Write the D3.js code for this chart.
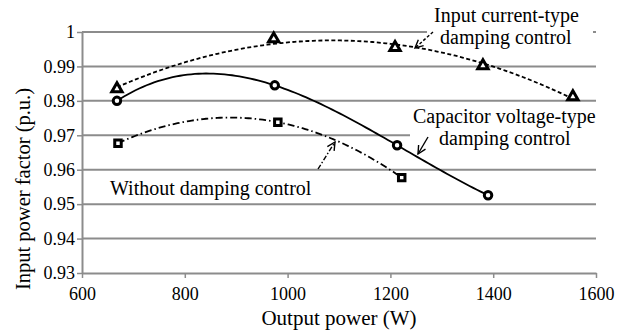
<!DOCTYPE html>
<html>
<head>
<meta charset="utf-8">
<script src="https://cdn.jsdelivr.net/npm/d3@7"></script>
</head>
<body style="margin:0; background:#fff">
<div id="chart"></div>
<script>
// values
const xTicks = [600, 800, 1000, 1200, 1400, 1600];
const yTicks = [0.93, 0.94, 0.95, 0.96, 0.97, 0.98, 0.99, 1];

const powerInput = [668, 973, 1209, 1380, 1555];
const pfInput    = [0.9835, 0.998, 0.9955, 0.9902, 0.9812];

const powerCap = [668, 975, 1213, 1390];
const pfCap    = [0.980, 0.9845, 0.9671, 0.9526];

const powerNone = [670, 981, 1222];
const pfNone    = [0.9677, 0.9738, 0.9577];

const serif = '"Liberation Serif"';

const margin = {top: 32, right: 24, bottom: 63, left: 82},
      width = 620 - margin.left - margin.right,
      height = 336 - margin.top - margin.bottom;

const svgRoot = d3.select("#chart").append("svg")
  .attr("width", 620).attr("height", 336);

const defs = svgRoot.append("defs");
defs.append("marker")
  .attr("id", "vhead")
  .attr("viewBox", "0 0 10 10")
  .attr("refX", 9).attr("refY", 5)
  .attr("markerWidth", 10).attr("markerHeight", 10)
  .attr("markerUnits", "userSpaceOnUse")
  .attr("orient", "auto")
  .append("path")
  .attr("d", "M1,1 L9,5 L1,9")
  .attr("fill", "none").attr("stroke", "#000").attr("stroke-width", 1.4);

const svg = svgRoot.append("g")
  .attr("transform", `translate(${margin.left},${margin.top})`);

const x = d3.scaleLinear().domain([600, 1600]).range([0, width]);
const y = d3.scaleLinear().domain([0.93, 1]).range([height, 0]);

// gridlines
svg.append("g")
  .selectAll("line")
  .data(yTicks.filter(d => d > 0.93))
  .enter().append("line")
  .attr("x1", 0).attr("x2", width)
  .attr("y1", d => y(d)).attr("y2", d => y(d))
  .attr("stroke", "#8c8c8c").attr("stroke-width", 2);

// white label boxes sit over the gridlines, under the curves
const boxes = svgRoot.append("g");
[[427, 8, 166, 40], [410, 106, 190, 44]].forEach(b => {
  boxes.append("rect")
    .attr("x", b[0]).attr("y", b[1]).attr("width", b[2]).attr("height", b[3])
    .attr("fill", "#fff");
});

// axes
const yAxis = svg.append("g")
  .call(d3.axisLeft(y).tickValues(yTicks).tickFormat(d => d === 1 ? "1" : d3.format(".2f")(d))
        .tickSize(5).tickSizeOuter(0).tickPadding(2));
const xAxis = svg.append("g")
  .attr("transform", `translate(0,${height})`)
  .call(d3.axisBottom(x).tickValues(xTicks).tickFormat(d3.format("d"))
        .tickSize(5).tickSizeOuter(0).tickPadding(9));
[xAxis, yAxis].forEach(a => {
  a.select(".domain").attr("stroke", "#8c8c8c").attr("stroke-width", 2);
  a.selectAll(".tick line").attr("stroke", "#8c8c8c").attr("stroke-width", 1.5);
  a.selectAll("text")
    .style("font-family", serif).style("font-size", "18px")
    .attr("fill", "#000");
});

// axis titles
svg.append("text")
  .attr("x", width / 2).attr("y", height + 52)
  .attr("text-anchor", "middle")
  .style("font-family", serif).style("font-size", "21px")
  .text("Output power (W)");
svg.append("text")
  .attr("transform", `translate(${-52},${157}) rotate(-90)`)
  .attr("text-anchor", "middle")
  .style("font-family", serif).style("font-size", "20.5px")
  .text("Input power factor (p.u.)");

// polynomial trendline (least squares), as in the original spreadsheet chart
function polyFit(xs, ys, order) {
  const n = order + 1;
  const A = Array.from({length: n}, () => new Array(n + 1).fill(0));
  xs.forEach((xv, k) => {
    const t = xv / 1000;
    for (let i = 0; i < n; i++) {
      for (let j = 0; j < n; j++) A[i][j] += Math.pow(t, i + j);
      A[i][n] += ys[k] * Math.pow(t, i);
    }
  });
  for (let i = 0; i < n; i++) {
    let p = i;
    for (let r = i + 1; r < n; r++) if (Math.abs(A[r][i]) > Math.abs(A[p][i])) p = r;
    [A[i], A[p]] = [A[p], A[i]];
    for (let r = 0; r < n; r++) {
      if (r === i) continue;
      const f = A[r][i] / A[i][i];
      for (let c = i; c <= n; c++) A[r][c] -= f * A[i][c];
    }
  }
  const coef = A.map((row, i) => row[n] / row[i]);
  return xv => coef.reduce((s, c, i) => s + c * Math.pow(xv / 1000, i), 0);
}

const series = [
  {xs: powerInput, ys: pfInput, order: 2, dash: "4,2.5", marker: "triangle"},
  {xs: powerCap, ys: pfCap, order: 3, dash: null, marker: "circle"},
  {xs: powerNone, ys: pfNone, order: 2, dash: "7,3,1.5,3", marker: "square"}
];

const line = d3.line().x(d => x(d[0])).y(d => y(d[1]));

series.forEach(s => {
  const f = polyFit(s.xs, s.ys, s.order);
  const lo = d3.min(s.xs), hi = d3.max(s.xs);
  const pts = d3.range(0, 101).map(i => {
    const xv = lo + (hi - lo) * i / 100;
    return [xv, f(xv)];
  });
  svg.append("path")
    .datum(pts)
    .attr("d", line)
    .attr("fill", "none")
    .attr("stroke", "#000")
    .attr("stroke-width", 1.8)
    .attr("stroke-dasharray", s.dash);

  const sym = s.marker === "triangle" ? d3.symbolTriangle
            : s.marker === "circle" ? d3.symbolCircle : d3.symbolSquare;
  const size = s.marker === "triangle" ? 46 : s.marker === "circle" ? 44 : 42;
  svg.selectAll(null)
    .data(s.xs.map((xv, i) => [xv, s.ys[i]]))
    .enter().append("path")
    .attr("d", d3.symbol().type(sym).size(size))
    .attr("transform", d => `translate(${x(d[0])},${y(d[1])})`)
    .attr("fill", "#fff")
    .attr("stroke", "#000")
    .attr("stroke-width", 3);
});

// annotations
const ann = svgRoot.append("g");
function label(lines, x0, y0, dx2) {
  lines.forEach((t, i) => {
    ann.append("text")
      .attr("x", x0 + (i ? dx2 : 0)).attr("y", y0 + i * 22)
      .style("font-family", serif).style("font-size", "20px")
      .text(t);
  });
}
label(["Input current-type", "damping control"], 434, 22, 6);
label(["Capacitor voltage-type", "damping control"], 413, 123, 26);
label(["Without damping control"], 110, 195, 0);

function arrow(x1, y1, x2, y2, dash) {
  ann.append("line")
    .attr("x1", x1).attr("y1", y1).attr("x2", x2).attr("y2", y2)
    .attr("stroke", "#000").attr("stroke-width", 1.4)
    .attr("stroke-dasharray", dash)
    .attr("marker-end", "url(#vhead)");
}
arrow(433, 32, 415, 48, "3,2");
arrow(428, 137, 418, 154, null);
arrow(318, 169, 335, 142, "5,2,1.5,2");
</script>
</body>
</html>
